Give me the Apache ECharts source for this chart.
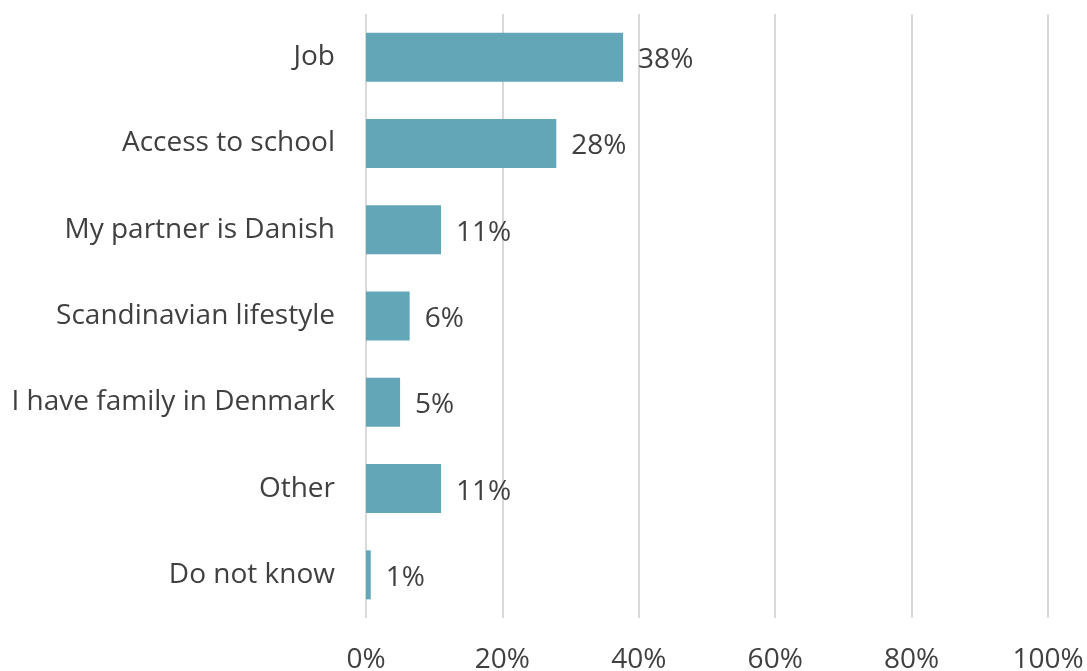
<!DOCTYPE html>
<html><head><meta charset="utf-8">
<script src="https://cdn.jsdelivr.net/npm/echarts@6/dist/echarts.min.js"></script>
<style>html,body{margin:0;padding:0;background:#fff}#c{width:1087px;height:671px}</style>
</head><body><div id="c"></div>
<script>
const categories = ["Job","Access to school","My partner is Danish","Scandinavian lifestyle","I have family in Denmark","Other","Do not know"];
const values = [37.7, 27.9, 11.0, 6.4, 5.0, 11.0, 0.7];
const xTicks = [0, 20, 40, 60, 80, 100];
const chart = echarts.init(document.getElementById('c'));
const font = '"Open Sans", sans-serif';
chart.setOption({
  animation: false,
  grid: {left: 366, right: 39, top: 14, bottom: 53, containLabel: false, outerBoundsMode: 'none'},
  xAxis: {
    type: 'value', min: xTicks[0], max: xTicks[xTicks.length-1], interval: 20,
    axisLine: {show: false}, axisTick: {show: false},
    splitLine: {show: true, lineStyle: {color: '#d9d9d9', width: 2}},
    axisLabel: {formatter: v => v + '%', color: '#404040', fontSize: 28, fontFamily: font, margin: 28}
  },
  yAxis: {
    type: 'category', data: categories, inverse: true,
    axisLine: {show: false}, axisTick: {show: false},
    axisLabel: {color: '#404040', fontSize: 28, fontFamily: font, margin: 31, padding: [2, 0, 0, 0]}
  },
  series: [{
    type: 'bar', data: values, barWidth: 49,
    itemStyle: {color: '#62a6b8'},
    label: {show: true, position: 'right', distance: 15, offset: [0, 3], formatter: p => Math.round(p.value) + '%',
      color: '#404040', fontSize: 28, fontFamily: font}
  }]
});
</script></body></html>
